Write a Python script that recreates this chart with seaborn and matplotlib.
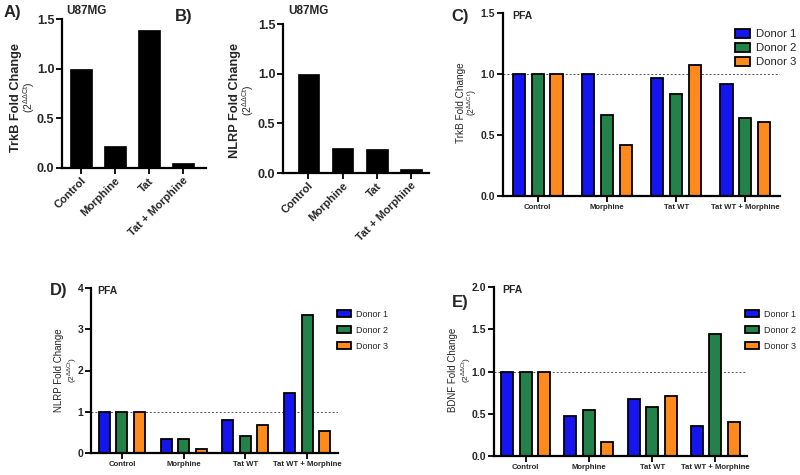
import numpy as np
import pandas as pd
import matplotlib
matplotlib.use("Agg")
import matplotlib.pyplot as plt
import seaborn as sns

sns.set_theme(style="ticks")
plt.rcParams['font.family'] = ['Liberation Sans', 'DejaVu Sans']
plt.rcParams['mathtext.fontset'] = 'custom'
plt.rcParams['mathtext.rm'] = 'Liberation Sans'

# ---------------- data ----------------
u87_categories = ["Control", "Morphine", "Tat", "Tat + Morphine"]
trkb_u87 = [1.00, 0.22, 1.39, 0.05]
nlrp_u87 = [1.00, 0.25, 0.24, 0.04]

pfa_categories = ["Control", "Morphine", "Tat WT", "Tat WT + Morphine"]
donors = ["Donor 1", "Donor 2", "Donor 3"]
trkb_pfa_d1 = [1.00, 1.00, 0.97, 0.92]
trkb_pfa_d2 = [1.00, 0.66, 0.84, 0.64]
trkb_pfa_d3 = [1.00, 0.42, 1.07, 0.61]
nlrp_pfa_d1 = [1.00, 0.33, 0.80, 1.45]
nlrp_pfa_d2 = [1.00, 0.35, 0.42, 3.35]
nlrp_pfa_d3 = [1.00, 0.10, 0.67, 0.54]
bdnf_pfa_d1 = [1.00, 0.47, 0.67, 0.35]
bdnf_pfa_d2 = [1.00, 0.54, 0.58, 1.44]
bdnf_pfa_d3 = [1.00, 0.17, 0.71, 0.40]

donor_colors = ["#1515f0", "#23824a", "#ff8a1c"]

W, H = 800, 475
fig = plt.figure(figsize=(8, 4.75), dpi=100)


def add_ax(l, r, t, b):
    return fig.add_axes([l / W, 1 - b / H, (r - l) / W, (b - t) / H])


def ptext(x, y, s, **kw):
    fig.text(x / W, 1 - y / H, s, **kw)


def style_axes(ax, lw=1.6):
    sns.despine(ax=ax)
    for sp in ["left", "bottom"]:
        ax.spines[sp].set_linewidth(lw)
        ax.spines[sp].set_color("black")
    ax.tick_params(axis="both", direction="out", length=4, width=1.3, color="black", pad=1.5)
    ax.set_xlabel("")
    ax.set_ylabel("")


def single_panel(ax, values, yticks, xlim, ticksize, xticksize):
    df = pd.DataFrame({"cat": u87_categories, "val": values})
    sns.barplot(data=df, x="cat", y="val", color="black", width=0.63, ax=ax,
                edgecolor="black", linewidth=0.5, saturation=1)
    ax.set_ylim(0, yticks[-1])
    ax.set_xlim(*xlim)
    ax.set_yticks(yticks)
    ax.set_yticklabels([f"{v:.1f}" for v in yticks], fontsize=ticksize, fontweight="bold")
    ax.set_xticks(range(len(u87_categories)))
    ax.set_xticklabels(u87_categories, rotation=45, ha="right", rotation_mode="anchor",
                       fontsize=xticksize, fontweight="bold")
    style_axes(ax)


def grouped_panel(ax, d1, d2, d3, yticks, fmt, width, legend_xy, legend_fs, labelspacing,
                  handlelength):
    df = pd.DataFrame({
        "cat": pfa_categories * 3,
        "val": list(d1) + list(d2) + list(d3),
        "donor": [donors[0]] * 4 + [donors[1]] * 4 + [donors[2]] * 4,
    })
    sns.barplot(data=df, x="cat", y="val", hue="donor", palette=donor_colors, ax=ax,
                width=width, gap=0.36, edgecolor="black", linewidth=1.3, saturation=1)
    ax.set_ylim(0, yticks[-1])
    ax.set_xlim(-0.5, 3.5)
    ax.axhline(1.0, color="#555555", linestyle=(0, (2, 2)), linewidth=0.7, zorder=0)
    ax.set_yticks(yticks)
    ax.set_yticklabels([fmt.format(v) for v in yticks], fontsize=7.5, fontweight="bold")
    ax.set_xticks(range(4))
    ax.set_xticklabels(pfa_categories, fontsize=5.6, fontweight="bold")
    ax.tick_params(axis="x", pad=5)
    style_axes(ax)
    handles, labels = ax.get_legend_handles_labels()
    for h in handles:
        h.set_linewidth(1.3)
        h.set_edgecolor("black")
    ax.legend(handles, labels, loc="upper left", frameon=False,
              bbox_to_anchor=(legend_xy[0] / W, 1 - legend_xy[1] / H),
              bbox_transform=fig.transFigure, borderpad=0, borderaxespad=0,
              fontsize=legend_fs, handlelength=handlelength, handleheight=0.8,
              handletextpad=0.55, labelspacing=labelspacing)


# ---------------- Panel A ----------------
axA = add_ax(62, 206, 19, 168)
single_panel(axA, trkb_u87, [0.0, 0.5, 1.0, 1.5], (-0.56, 3.68), 9, 8)
ptext(4, 13, "A)", fontsize=12, fontweight="bold", va="center")
ptext(66, 11, "U87MG", fontsize=8.5, fontweight="bold", va="center")
ptext(16, 97, "TrkB Fold Change", rotation=90, fontsize=9.2, fontweight="bold", ha="center", va="center")
ptext(29, 97, r"(2$^{\Delta\Delta \mathrm{Ct}}$)", rotation=90, fontsize=7.5, ha="center", va="center")

# ---------------- Panel B ----------------
axB = add_ax(283, 429, 24, 173)
single_panel(axB, nlrp_u87, [0.0, 0.5, 1.0, 1.5], (-0.74, 3.52), 9, 8)
ptext(175, 16, "B)", fontsize=12, fontweight="bold", va="center")
ptext(288, 11, "U87MG", fontsize=8.5, fontweight="bold", va="center")
ptext(235, 100, "NLRP Fold Change", rotation=90, fontsize=9.2, fontweight="bold", ha="center", va="center")
ptext(248, 100, r"(2$^{\Delta\Delta \mathrm{Ct}}$)", rotation=90, fontsize=7.5, ha="center", va="center")

# ---------------- Panel C ----------------
axC = add_ax(503, 780, 13, 196)
grouped_panel(axC, trkb_pfa_d1, trkb_pfa_d2, trkb_pfa_d3, [0.0, 0.5, 1.0, 1.5], "{:.1f}",
              0.82, (735, 29), 8.2, 0.32, 1.3)
ptext(451, 16, "C)", fontsize=12, fontweight="bold", va="center")
ptext(512, 16, "PFA", fontsize=7.5, fontweight="bold", va="center")
ptext(461, 103, "TrkB Fold Change", rotation=90, fontsize=7.2, ha="center", va="center")
ptext(472, 103, r"(2$^{\Delta\Delta \mathrm{Ct}}$)", rotation=90, fontsize=6.2, ha="center", va="center")

# ---------------- Panel D ----------------
axD = add_ax(91, 338, 288, 453)
grouped_panel(axD, nlrp_pfa_d1, nlrp_pfa_d2, nlrp_pfa_d3, [0, 1, 2, 3, 4], "{:d}",
              0.85, (337, 310), 6.5, 0.75, 1.6)
ptext(50, 291, "D)", fontsize=12, fontweight="bold", va="center")
ptext(97, 291, "PFA", fontsize=7.5, fontweight="bold", va="center")
ptext(59, 370, "NLRP Fold Change", rotation=90, fontsize=7, ha="center", va="center")
ptext(72, 370, r"(2$^{\Delta\Delta \mathrm{Ct}}$)", rotation=90, fontsize=6, ha="center", va="center")

# ---------------- Panel E ----------------
axE = add_ax(494, 747, 287, 456)
grouped_panel(axE, bdnf_pfa_d1, bdnf_pfa_d2, bdnf_pfa_d3, [0.0, 0.5, 1.0, 1.5, 2.0], "{:.1f}",
              0.88, (745, 310), 6.5, 0.75, 1.6)
ptext(452, 302, "E)", fontsize=12, fontweight="bold", va="center")
ptext(502, 290, "PFA", fontsize=7.5, fontweight="bold", va="center")
ptext(453, 370, "BDNF Fold Change", rotation=90, fontsize=7, ha="center", va="center")
ptext(466, 370, r"(2$^{\Delta\Delta \mathrm{Ct}}$)", rotation=90, fontsize=6, ha="center", va="center")

fig.savefig("out.png", dpi=100)
